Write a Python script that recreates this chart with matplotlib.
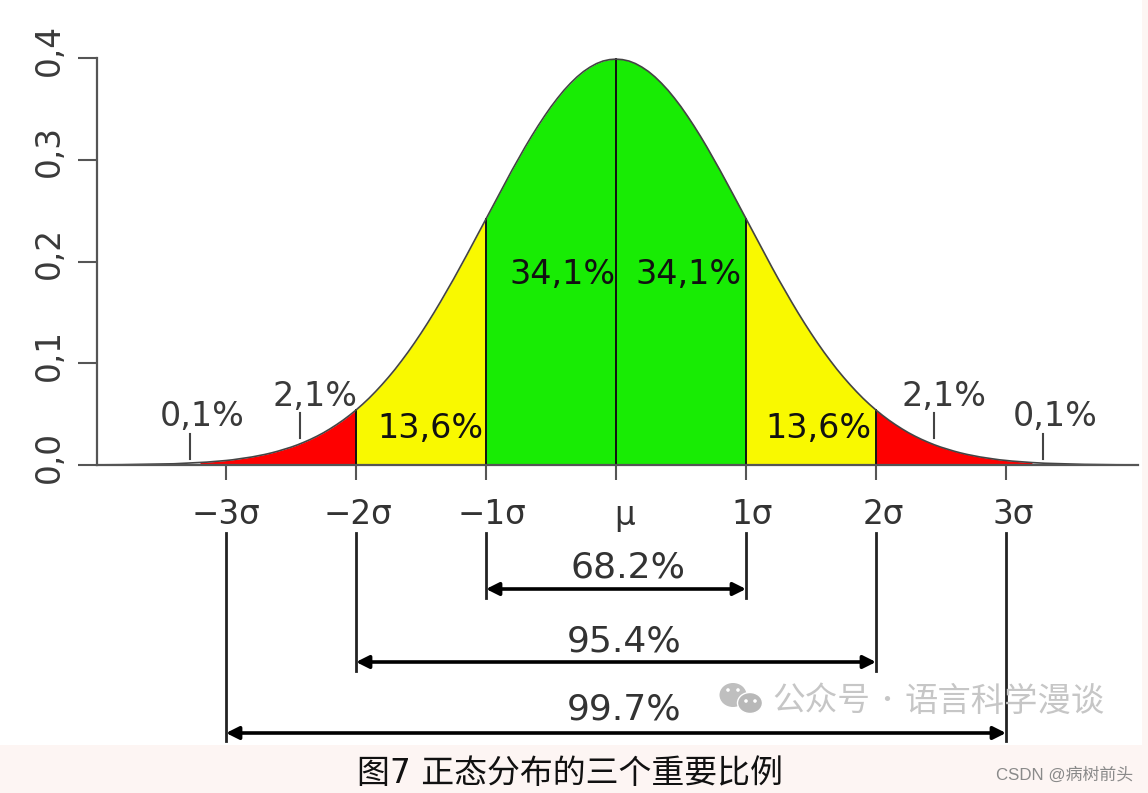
import numpy as np
import matplotlib
matplotlib.use('Agg')
import matplotlib.pyplot as plt
from matplotlib.patches import Ellipse, Circle, Rectangle

W, H = 1148, 793
MU_PX, SIG_PX = 616, 130
Y0_PX, YTOP_PX = 465, 58

# left half of the curve, x in sigma (it is symmetric)
half_x = [-4.0, -3.95, -3.9, -3.85, -3.8, -3.75, -3.7, -3.65, -3.6, -3.55,
          -3.5, -3.45, -3.4, -3.35, -3.3, -3.25, -3.2, -3.15, -3.1, -3.05,
          -3.0, -2.95, -2.9, -2.85, -2.8, -2.75, -2.7, -2.65, -2.6, -2.55,
          -2.5, -2.45, -2.4, -2.35, -2.3, -2.25, -2.2, -2.15, -2.1, -2.05,
          -2.0, -1.95, -1.9, -1.85, -1.8, -1.75, -1.7, -1.65, -1.6, -1.55,
          -1.5, -1.45, -1.4, -1.35, -1.3, -1.25, -1.2, -1.15, -1.1, -1.05,
          -1.0, -0.95, -0.9, -0.85, -0.8, -0.75, -0.7, -0.65, -0.6, -0.55,
          -0.5, -0.45, -0.4, -0.35, -0.3, -0.25, -0.2, -0.15, -0.1, -0.05, 0.0]
half_y = [.0001, .0002, .0002, .0002, .0003, .0004, .0004, .0005, .0006, .0007,
          .0009, .0010, .0012, .0015, .0017, .0020, .0024, .0028, .0033, .0038,
          .0044, .0051, .0060, .0069, .0079, .0091, .0104, .0119, .0136, .0155,
          .0175, .0198, .0224, .0252, .0283, .0317, .0355, .0396, .0440, .0488,
          .0540, .0596, .0656, .0721, .0790, .0863, .0940, .1023, .1109, .1200,
          .1295, .1394, .1497, .1604, .1714, .1826, .1942, .2059, .2179, .2299,
          .2420, .2541, .2661, .2780, .2897, .3011, .3123, .3230, .3332, .3429,
          .3521, .3605, .3683, .3752, .3814, .3867, .3910, .3945, .3970, .3984, .3989]
x = np.array(half_x + [-v for v in half_x[-2::-1]])
y = np.array(half_y + half_y[-2::-1])

y_ticks = [0.0, 0.1, 0.2, 0.3, 0.4]
y_labels = ['0,0', '0,1', '0,2', '0,3', '0,4']
x_ticks = [-3, -2, -1, 0, 1, 2, 3]
x_labels = ['\u22123σ', '\u22122σ', '\u22121σ', 'μ', '1σ', '2σ', '3σ']
x_label_px = [226, 358, 492, 625, 752, 883, 1013]

bands = [(-3.2, -2, '#fe0000'), (-2, -1, '#f9f900'), (-1, 1, '#18ec04'),
         (1, 2, '#f9f900'), (2, 3.2, '#fe0000')]
dividers = [-2, -1, 0, 1, 2]
part_labels = [('0,1%', 202, 417), ('2,1%', 315, 397), ('13,6%', 430, 428),
               ('34,1%', 562, 275), ('34,1%', 689, 275), ('13,6%', 818, 428),
               ('2,1%', 944, 397), ('0,1%', 1055, 417)]
leader_px = [(190, 434, 459), (300, 413, 438), (934, 413, 438), (1043, 434, 459)]
spans = [(1, '68.2%', 628, 567, 589, 598), (2, '95.4%', 624, 641, 662, 671),
         (3, '99.7%', 624, 709, 733, 741)]


def xd(px):
    return (px - MU_PX) / SIG_PX


def yd(px):
    return (Y0_PX - px) / (Y0_PX - YTOP_PX) * 0.4


def ftext(px, py, s, **kw):
    fig.text(px / W, 1 - py / H, s, ha='center', va='center', **kw)


plt.rcParams['font.family'] = ['DejaVu Sans', 'Noto Sans CJK SC']
fig = plt.figure(figsize=(W / 100, H / 100), dpi=100, facecolor='white')

# page background strips behind the picture
fig.add_artist(Rectangle((0, 0), 1, 1 - 745 / H, transform=fig.transFigure, color='#fdf5f3', lw=0))
fig.add_artist(Rectangle((1142 / W, 0), 6 / W, 1, transform=fig.transFigure, color='#fdf5f3', lw=0))

ax = fig.add_axes([97 / W, 1 - Y0_PX / H, (1138 - 97) / W, (Y0_PX - YTOP_PX) / H])
ax.patch.set_alpha(0)
ax.set_xlim(xd(97), xd(1138))
ax.set_ylim(0, 0.4)

for lo, hi, col in bands:
    m = (x >= lo) & (x <= hi)
    ax.fill_between(x[m], 0, y[m], color=col, lw=0)
for d in dividers:
    ax.plot([d, d], [0, y[np.argmin(np.abs(x - d))]], color='#111111', lw=1.4, clip_on=False)
ax.plot(x, y, color='#444444', lw=1.2)

for s in ['top', 'right']:
    ax.spines[s].set_visible(False)
for s in ['left', 'bottom']:
    ax.spines[s].set_color('#555555')
    ax.spines[s].set_linewidth(1.6)

ax.set_yticks(y_ticks)
ax.set_yticklabels([])
ax.tick_params(axis='y', length=13.5, width=1.5, color='#555555')
for v, lab in zip(y_ticks, y_labels):
    ax.annotate(lab, xy=(0, v), xycoords=ax.get_yaxis_transform(), xytext=(-34.5, 6),
                textcoords='offset points', rotation=90, ha='center', va='center',
                fontsize=23.5, color='#3a3a3a', annotation_clip=False)
ax.set_xticks(x_ticks)
ax.set_xticklabels([])
ax.tick_params(axis='x', length=11, width=1.5, color='#555555')

for lab, px in zip(x_labels, x_label_px):
    ftext(px, 515, lab, fontsize=23.5, color='#333333')

for lab, px, py in part_labels:
    col = '#111111' if '3' in lab[:2] or '13' in lab else '#3a3a3a'
    ftext(px, py, lab, fontsize=24, color=col)

for px, top, bot in leader_px:
    ax.plot([xd(px), xd(px)], [yd(top), yd(bot)], color='#444444', lw=1.5, clip_on=False)

for k, lab, px, py, arrow_py, end_py in spans:
    for side in [-k, k]:
        ax.plot([side, side], [yd(533), yd(end_py)], color='#222222', lw=2, clip_on=False)
    ax.annotate('', xy=(k, yd(arrow_py)), xytext=(-k, yd(arrow_py)), annotation_clip=False,
                arrowprops=dict(arrowstyle='<|-|>', color='black', lw=2.6,
                                mutation_scale=19, shrinkA=0, shrinkB=0))
    ftext(px, py, lab, fontsize=26, color='#333333')

# watermark and caption
wm = fig.add_axes([0, 0, 1, 1])
wm.set_xlim(0, W)
wm.set_ylim(H, 0)
wm.axis('off')
wm.patch.set_alpha(0)
wm.add_patch(Ellipse((733, 695), 27, 24, color='#b8b8b8', lw=0, alpha=0.9))
wm.add_patch(Ellipse((750, 703), 25, 21, color='#b8b8b8', ec='white', lw=1))
for cx, cy in [(728, 690), (738, 690), (746, 701), (755, 701)]:
    wm.add_patch(Circle((cx, cy), 1.8, color='white', lw=0))
cjk = ['Noto Sans CJK SC', 'DejaVu Sans']
ftext(821, 701, '公众号', fontsize=23.5, color='#c6c6c6', family=cjk)
ftext(887, 701, '·', fontsize=18, color='#c6c6c6', family=cjk)
ftext(1005, 701, '语言科学漫谈', fontsize=24, color='#c6c6c6', family=cjk)
ftext(570, 773, '图7 正态分布的三个重要比例', fontsize=23.7, color='#111111',
      family=['DejaVu Sans', 'Noto Sans CJK SC'])
ftext(1065, 775, 'CSDN @病树前头', fontsize=12.2, color='#8a8a8a',
      family=['Liberation Sans', 'Noto Sans CJK SC'])

fig.savefig('out.png', dpi=100)
